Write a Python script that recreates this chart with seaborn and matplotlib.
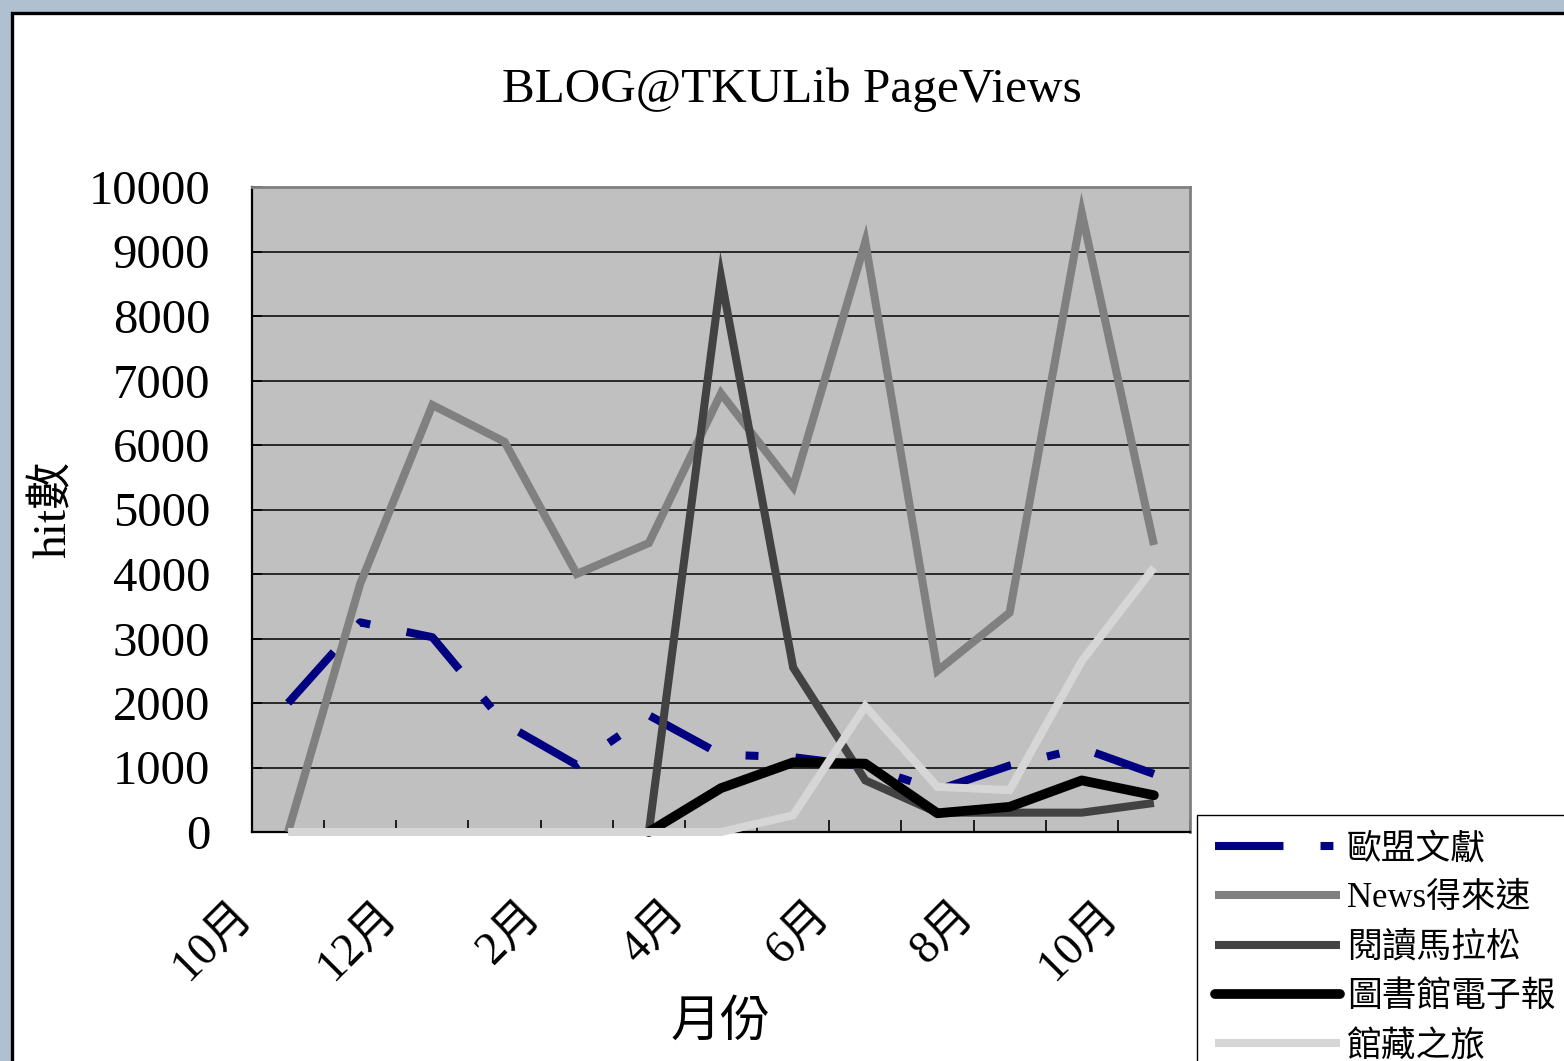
import numpy as np
import pandas as pd
import matplotlib
matplotlib.use("Agg")
import matplotlib.pyplot as plt
import matplotlib.patches as mpatches
import matplotlib.transforms as mtransforms
import seaborn as sns

# ---------------- data ----------------
months = ["10月", "11月", "12月", "1月", "2月", "3月", "4月",
          "5月", "6月", "7月", "8月", "9月", "10月"]
nan = np.nan
eu_docs = [2000, 3250, 3020, 1680, 1040, 1810, 1200, 1160, 1020, 650, 1030, 1300, 900]
news = [0, 3850, 6620, 6050, 4000, 4480, 6800, 5350, 9150, 2500, 3400, 9600, 4450]
marathon = [nan, nan, nan, nan, nan, 0, 8600, 2550, 800, 300, 300, 300, 450]
enews = [nan, nan, nan, nan, nan, 0, 680, 1080, 1060, 290, 390, 800, 570]
collection = [0, 0, 0, 0, 0, 0, 0, 260, 1950, 700, 650, 2650, 4100]
series_names = ["歐盟文獻", "News得來速", "閱讀馬拉松", "圖書館電子報", "館藏之旅"]
y_ticks = [0, 1000, 2000, 3000, 4000, 5000, 6000, 7000, 8000, 9000, 10000]

df = pd.DataFrame({
    "idx": np.arange(len(months)),
    series_names[0]: eu_docs,
    series_names[1]: news,
    series_names[2]: marathon,
    series_names[3]: enews,
    series_names[4]: collection,
})

# ---------------- style ----------------
sns.set_theme(style="white")
plt.rcParams["font.family"] = ["Liberation Serif", "Noto Sans CJK TC"]
for k in ["text.color", "axes.labelcolor", "xtick.color", "ytick.color"]:
    plt.rcParams[k] = "black"

W, H, DPI = 1564, 1061, 100
fig = plt.figure(figsize=(W / DPI, H / DPI), dpi=DPI, facecolor="#AFC1D0")

# white chart area with black frame (extends beyond the right/bottom edges)
frame = mpatches.Rectangle((11.5 / W, -0.1), 1.2, (H - 12.5) / H + 0.1,
                           transform=fig.transFigure, facecolor="white",
                           edgecolor="black", linewidth=2.4, zorder=-5)
fig.patches.append(frame)

ax_l, ax_r, ax_t, ax_b = 252, 1190, 187, 832
ax = fig.add_axes([ax_l / W, 1 - ax_b / H, (ax_r - ax_l) / W, (ax_b - ax_t) / H])
ax.set_zorder(2)
ax.set_facecolor("#C0C0C0")

styles = {
    series_names[0]: dict(color="#000080", lw=5.8),
    series_names[1]: dict(color="#808080", lw=5.8),
    series_names[2]: dict(color="#424242", lw=5.8),
    series_names[3]: dict(color="#000000", lw=7.0),
    series_names[4]: dict(color="#D6D6D6", lw=5.8),
}

handles = []
for name in series_names:
    st = styles[name]
    sub = df[["idx", name]].dropna()
    sns.lineplot(data=sub, x="idx", y=name, ax=ax, color=st["color"],
                 linewidth=st["lw"], clip_on=False, zorder=3)
    line = ax.get_lines()[-1]
    if name == series_names[0]:
        line.set_dashes((8.5, 4.6, 1.6, 4.6))
        line.set_dash_capstyle("butt")
    elif name == series_names[3]:
        line.set_solid_capstyle("round")
        line.set_solid_joinstyle("round")
    else:
        line.set_solid_capstyle("butt")
        line.set_solid_joinstyle("miter")
    handles.append(line)

# axes limits / grid
ax.set_xlim(-0.5, len(months) - 0.5)
ax.set_ylim(0, 10000)
ax.set_yticks(y_ticks)
ax.set_yticklabels([str(v) for v in y_ticks])
ax.yaxis.grid(True, color="black", linewidth=1.1)
ax.xaxis.grid(False)
ax.set_axisbelow(True)

for s in ["top", "right"]:
    ax.spines[s].set_color("#808080")
    ax.spines[s].set_linewidth(2.0)
for s in ["left", "bottom"]:
    ax.spines[s].set_color("black")
    ax.spines[s].set_linewidth(1.6)

ax.tick_params(axis="y", which="major", direction="in", length=7, width=1.2,
               color="black", labelsize=35, pad=30, left=True)

# x: tick marks at category boundaries, labels every other month
ax.set_xticks(np.arange(len(months) + 1) - 0.5, minor=True)
major_pos = np.arange(0, len(months), 2)
ax.set_xticks(major_pos)
ax.set_xticklabels([months[i] for i in major_pos], rotation=45, ha="right",
                   va="top")
ax.tick_params(axis="x", which="minor", direction="in", length=9, width=1.2,
               color="black", bottom=True)
ax.tick_params(axis="x", which="major", length=0, labelsize=33, pad=44)
offset = mtransforms.ScaledTranslation(-28 / DPI, 0, fig.dpi_scale_trans)
for lab in ax.get_xticklabels():
    lab.set_transform(lab.get_transform() + offset)

ax.set_xlabel("月份", fontsize=36, va="center")
ax.xaxis.set_label_coords(0.5, (ax_b - 1024) / (ax_b - ax_t))
ax.set_ylabel("hit數", fontsize=34, va="center")
ax.yaxis.set_label_coords((54 - ax_l) / (ax_r - ax_l), 0.5)

fig.suptitle("BLOG@TKULib PageViews", x=792 / W, y=1 - 102 / H,
             va="baseline", ha="center", fontsize=35.5)

leg = fig.legend(handles, series_names, loc="upper left",
                 bbox_to_anchor=(1197 / W, 1 - 815 / H), borderaxespad=0,
                 frameon=True, fancybox=False, shadow=False,
                 fontsize=25, handlelength=3.6, handletextpad=0.2,
                 labelspacing=0.47, borderpad=0.52)
leg.set_zorder(5)
leg.get_frame().set_edgecolor("black")
leg.get_frame().set_linewidth(1.0)
leg.get_frame().set_facecolor("white")
leg.get_frame().set_alpha(1)

fig.savefig("out.png", dpi=DPI, facecolor=fig.get_facecolor())
